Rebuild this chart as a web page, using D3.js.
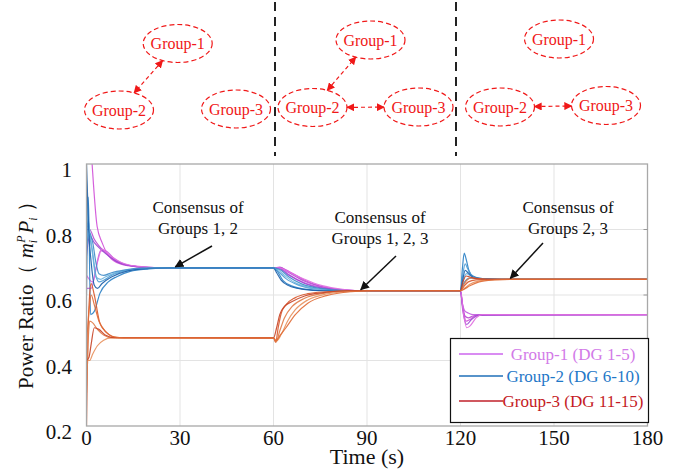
<!DOCTYPE html>
<html><head><meta charset="utf-8">
<script src="https://cdn.jsdelivr.net/npm/d3@7"></script>
<style>body{margin:0;background:#fff}svg{display:block}
svg text{font-family:"Liberation Serif","Times New Roman",serif;}</style>
</head><body>
<svg id="c" width="678" height="470"></svg>
<script>
// ---------- data ----------
const xTicks = [0, 30, 60, 90, 120, 150, 180];
const yTicks = [0.2, 0.4, 0.6, 0.8, 1];
const yTickLabels = ["0.2", "0.4", "0.6", "0.8", "1"];

// Group-1 (DG 1-5) trajectories [time, power ratio]
const group1 = [
  [[0,1.3],[1.8,1.0],[3.4,0.81],[5,0.76],[8,0.71],[12,0.692],[18,0.685],[25,0.683],[60,0.683],[62,0.684],[65,0.672],[70,0.645],[75,0.627],[80,0.618],[88,0.613],[120,0.613],[120.8,0.56],[121.8,0.52],[123,0.525],[125,0.538],[128,0.54],[180,0.54]],
  [[0,0.8],[1,0.8],[2.5,0.77],[4,0.75],[6,0.73],[10,0.7],[15,0.688],[22,0.683],[60,0.683],[62,0.685],[65,0.668],[70,0.642],[75,0.626],[80,0.617],[88,0.613],[120,0.613],[120.6,0.57],[121.5,0.535],[122.5,0.53],[124,0.536],[127,0.54],[180,0.54]],
  [[0,0.62],[1.5,0.62],[3,0.68],[4.5,0.735],[6,0.735],[9,0.71],[14,0.69],[22,0.683],[60,0.683],[62,0.682],[65,0.662],[70,0.637],[75,0.624],[82,0.615],[88,0.613],[120,0.613],[120.5,0.58],[121.5,0.55],[122.5,0.545],[124,0.54],[180,0.54]],
  [[0,0.72],[1,0.78],[2.5,0.76],[4.5,0.74],[7,0.72],[11,0.697],[18,0.685],[25,0.683],[60,0.683],[62,0.68],[65,0.66],[70,0.635],[76,0.62],[88,0.613],[120,0.613],[120.7,0.555],[122,0.51],[123.5,0.525],[126,0.538],[180,0.54]],
  [[0,0.66],[2,0.64],[3.5,0.7],[5,0.74],[7,0.725],[11,0.7],[16,0.688],[24,0.683],[60,0.683],[62,0.683],[65,0.67],[70,0.648],[75,0.63],[80,0.62],[88,0.613],[120,0.613],[121,0.54],[122,0.5],[123,0.505],[125,0.53],[127,0.54],[180,0.54]]
];
// Group-2 (DG 6-10)
const group2 = [
  [[0,0.6],[0.6,0.9],[1.3,0.54],[2.5,0.55],[4.3,0.605],[7,0.64],[9.7,0.656],[14,0.672],[20,0.68],[26,0.683],[60,0.683],[61,0.675],[63,0.645],[66,0.627],[70,0.618],[78,0.613],[120,0.613],[120.6,0.68],[121.2,0.728],[121.8,0.71],[122.7,0.675],[124,0.658],[127,0.65],[132,0.648],[180,0.648]],
  [[0,0.95],[0.8,0.8],[1.8,0.74],[3,0.66],[4,0.64],[5.5,0.645],[8,0.66],[12,0.673],[18,0.68],[25,0.683],[60,0.683],[61.5,0.672],[64,0.65],[68,0.63],[73,0.619],[82,0.613],[120,0.613],[120.7,0.66],[121.5,0.695],[122.3,0.68],[123.5,0.66],[126,0.65],[132,0.648],[180,0.648]],
  [[0,0.85],[1,0.8],[2,0.72],[3,0.655],[4.5,0.648],[6,0.655],[10,0.67],[16,0.68],[24,0.683],[60,0.683],[61,0.68],[63.5,0.66],[67,0.637],[72,0.622],[80,0.614],[86,0.613],[120,0.613],[121,0.65],[122,0.665],[123,0.66],[125,0.652],[130,0.648],[180,0.648]],
  [[0,1.0],[0.7,0.8],[1.5,0.7],[2.5,0.63],[3.5,0.62],[5,0.635],[8,0.655],[13,0.673],[20,0.681],[26,0.683],[60,0.683],[61,0.668],[62.5,0.645],[65,0.628],[69,0.618],[76,0.613],[120,0.613],[120.6,0.64],[121.5,0.675],[122.5,0.667],[124,0.655],[128,0.649],[133,0.648],[180,0.648]],
  [[0,0.75],[1,0.79],[2,0.76],[3,0.7],[4,0.665],[5.5,0.66],[8,0.668],[12,0.676],[18,0.682],[25,0.683],[60,0.683],[62,0.678],[65,0.655],[69,0.634],[75,0.62],[84,0.613],[120,0.613],[121,0.635],[122.5,0.65],[124,0.652],[127,0.649],[132,0.648],[180,0.648]]
];
// Group-3 (DG 11-15)
const group3 = [
  [[0,0.2],[0.4,0.45],[1,0.6],[1.5,0.635],[2.5,0.6],[4.3,0.514],[6.5,0.485],[9.7,0.47],[60,0.469],[60.7,0.456],[61.5,0.5],[62.5,0.545],[64,0.57],[67,0.592],[71,0.604],[77,0.61],[85,0.613],[120,0.613],[121,0.625],[122.5,0.64],[125,0.646],[130,0.648],[180,0.648]],
  [[0,0.3],[0.5,0.45],[1,0.52],[2,0.515],[3.5,0.495],[5.5,0.478],[8,0.47],[60,0.469],[60.8,0.456],[62,0.49],[63.5,0.53],[66,0.565],[70,0.59],[76,0.605],[84,0.612],[90,0.613],[120,0.613],[121,0.63],[122,0.645],[123.5,0.652],[126,0.65],[130,0.648],[180,0.648]],
  [[0,0.4],[1,0.4],[2,0.42],[3.5,0.445],[5.5,0.462],[8,0.469],[60,0.469],[61,0.46],[62.5,0.48],[64.5,0.52],[67,0.555],[71,0.585],[77,0.603],[85,0.611],[92,0.613],[120,0.613],[121.5,0.622],[123,0.633],[126,0.643],[130,0.647],[135,0.648],[180,0.648]],
  [[0,0.4],[0.8,0.41],[1.5,0.45],[2.5,0.5],[4,0.495],[6,0.478],[9,0.47],[60,0.469],[61,0.5],[62,0.54],[63.5,0.565],[66,0.58],[70,0.597],[76,0.607],[84,0.613],[120,0.613],[120.8,0.64],[121.8,0.658],[123,0.655],[125,0.65],[130,0.648],[180,0.648]],
  [[0,0.45],[0.8,0.55],[1.5,0.6],[2.5,0.57],[4,0.52],[6,0.49],[9,0.472],[12,0.469],[60,0.469],[60.8,0.46],[62,0.475],[64,0.5],[67,0.54],[71,0.575],[77,0.598],[85,0.61],[92,0.613],[120,0.613],[121.2,0.618],[123,0.628],[126,0.64],[131,0.646],[136,0.648],[180,0.648]]
];
const group1Colors = ["#d04fd8", "#b84ad0", "#c25ce0", "#9b47d2", "#e06ee0"];
const group2Colors = ["#2a7fc4", "#4a9ad4", "#6cb2de", "#1c5fa8", "#3f8cc8"];
const group3Colors = ["#d8562a", "#e07a46", "#e8905c", "#c84426", "#e06a34"];

const legendLabels = ["Group-1 (DG 1-5)", "Group-2 (DG 6-10)", "Group-3 (DG 11-15)"];
const legendColors = ["#cc66ee", "#1f6fb8", "#c0202a"];
const legendTextColors = ["#d27ae8", "#1f78c8", "#c41a24"];

const annotations = [
  {lines: ["Consensus of", "Groups 1, 2"], t: 28.5, v: 0.683},
  {lines: ["Consensus of", "Groups 1, 2, 3"], t: 88, v: 0.613},
  {lines: ["Consensus of", "Groups 2, 3"], t: 136, v: 0.648}
];

// topology diagram
const panels = [
  {nodes: [["Group-1", 177.7, 43.5], ["Group-2", 119, 110], ["Group-3", 236, 109]], links: [[0, 1]]},
  {nodes: [["Group-1", 370.5, 40], ["Group-2", 312.5, 107.5], ["Group-3", 418.5, 107]], links: [[1, 0], [1, 2]]},
  {nodes: [["Group-1", 559, 39], ["Group-2", 500, 107], ["Group-3", 606, 105.5]], links: [[1, 2]]}
];
const dividerX = [275, 456];

// ---------- drawing ----------
const svg = d3.select("#c");
const L = 86.5, R = 647.5, T = 164, B = 426;
const x = d3.scaleLinear().domain([0, 180]).range([L, R]);
const y = d3.scaleLinear().domain([0.2, 1]).range([B, T]);

// grid
const grid = svg.append("g");
grid.selectAll(".gx").data(xTicks.slice(1, -1)).join("line")
  .attr("x1", d => x(d)).attr("x2", d => x(d)).attr("y1", T).attr("y2", B)
  .attr("stroke", "#e3e3e3").attr("stroke-width", 1);
grid.selectAll(".gy").data(yTicks.slice(1, -1)).join("line")
  .attr("x1", L).attr("x2", R).attr("y1", d => y(d)).attr("y2", d => y(d))
  .attr("stroke", "#e3e3e3").attr("stroke-width", 1);

svg.append("clipPath").attr("id", "clip").append("rect")
  .attr("x", L).attr("y", T).attr("width", R - L).attr("height", B - T);

const line = d3.line().x(d => x(d[0])).y(d => y(d[1])).curve(d3.curveMonotoneX);
const plot = svg.append("g").attr("clip-path", "url(#clip)");
[[group1, group1Colors], [group2, group2Colors], [group3, group3Colors]].forEach(([grp, cols]) => {
  plot.append("g").selectAll("path").data(grp).join("path")
    .attr("d", line).attr("fill", "none")
    .attr("stroke", (d, i) => cols[i]).attr("stroke-width", 1.2).attr("stroke-opacity", 0.9);
});

// frame
svg.append("rect").attr("x", L).attr("y", T).attr("width", R - L).attr("height", B - T)
  .attr("fill", "none").attr("stroke", "#a8a8a8").attr("stroke-width", 1.3);
svg.selectAll(".rt").data(yTicks.slice(1, -1)).join("line")
  .attr("x1", R - 4).attr("x2", R).attr("y1", d => y(d)).attr("y2", d => y(d))
  .attr("stroke", "#999");

// tick labels
svg.selectAll(".xl").data(xTicks).join("text")
  .attr("x", d => x(d)).attr("y", 445).attr("text-anchor", "middle")
  .attr("font-size", 21).attr("fill", "#111").text(d => d);
svg.selectAll(".yl").data(yTicks).join("text")
  .attr("x", 72).attr("y", d => y(d) + 6).attr("text-anchor", "end").attr("dominant-baseline", "central")
  .attr("font-size", 21).attr("fill", "#111").text((d, i) => yTickLabels[i]);

svg.append("text").attr("x", 367).attr("y", 464).attr("text-anchor", "middle")
  .attr("font-size", 22).attr("fill", "#111").text("Time (s)");

// y label
const yl = svg.append("text").attr("transform", "translate(33,290) rotate(-90)")
  .attr("text-anchor", "middle").attr("font-size", 21).attr("fill", "#111");
yl.append("tspan").text("Power Ratio（ ");
yl.append("tspan").attr("font-style", "italic").text("m");
yl.append("tspan").attr("font-style", "italic").attr("font-size", 12).attr("dy", 4).text("i");
yl.append("tspan").attr("font-style", "italic").attr("font-size", 12).attr("dx", -3).attr("dy", -12).text("P");
yl.append("tspan").attr("font-style", "italic").attr("dx", 2).attr("dy", 8).text("P");
yl.append("tspan").attr("font-style", "italic").attr("font-size", 12).attr("dy", 4).text("i");
yl.append("tspan").attr("dy", -4).text(" ）");

// markers
const defs = svg.append("defs");
defs.append("marker").attr("id", "ah").attr("viewBox", "0 0 10 10").attr("refX", 9).attr("refY", 5)
  .attr("markerWidth", 9).attr("markerHeight", 9).attr("orient", "auto-start-reverse")
  .attr("markerUnits", "userSpaceOnUse")
  .append("path").attr("d", "M0,0 L10,5 L0,10 Z").attr("fill", "#111");
defs.append("marker").attr("id", "rh").attr("viewBox", "0 0 10 10").attr("refX", 9).attr("refY", 5)
  .attr("markerWidth", 8).attr("markerHeight", 8).attr("orient", "auto-start-reverse")
  .attr("markerUnits", "userSpaceOnUse")
  .append("path").attr("d", "M0,0 L10,5 L0,10 Z").attr("fill", "#f01818");

// annotations
const annoPos = [[198, 208, 212, 246], [380, 218, 396, 256], [568, 208, 543, 243]];
annotations.forEach((a, i) => {
  const [cx, cy, ax, ay] = annoPos[i];
  const t = svg.append("text").attr("text-anchor", "middle")
    .attr("font-size", 17).attr("fill", "#111");
  a.lines.forEach((s, j) => t.append("tspan").attr("x", cx).attr("y", cy + 5 + j * 21).text(s));
  svg.append("line").attr("x1", ax).attr("y1", ay).attr("x2", x(a.t)).attr("y2", y(a.v) - 1)
    .attr("stroke", "#111").attr("stroke-width", 1.5).attr("marker-end", "url(#ah)");
});

// legend
const lg = svg.append("g");
lg.append("rect").attr("x", 450.5).attr("y", 338.5).attr("width", 198).attr("height", 84)
  .attr("fill", "#fff").attr("stroke", "#111").attr("stroke-width", 1.2);
legendLabels.forEach((s, i) => {
  const yy = [354, 376, 401][i];
  lg.append("line").attr("x1", 459).attr("x2", 503).attr("y1", yy).attr("y2", yy)
    .attr("stroke", legendColors[i]).attr("stroke-width", 1.5);
  lg.append("text").attr("x", 573).attr("y", yy).attr("dominant-baseline", "central")
    .attr("text-anchor", "middle").attr("font-size", 17)
    .attr("fill", legendTextColors[i]).text(s);
});

// topology diagram
dividerX.forEach(dx => svg.append("line").attr("x1", dx).attr("x2", dx).attr("y1", 2).attr("y2", 156)
  .attr("stroke", "#222").attr("stroke-width", 2).attr("stroke-dasharray", "9,6"));
const rx = 34.5, ry = 19;
panels.forEach(p => {
  p.links.forEach(([a, b]) => {
    const A = p.nodes[a], Bn = p.nodes[b];
    const ang = Math.atan2(Bn[2] - A[2], Bn[1] - A[1]);
    const edge = (n, th) => {
      const k = 1 / Math.sqrt((Math.cos(th) / rx) ** 2 + (Math.sin(th) / ry) ** 2);
      return [n[1] + k * Math.cos(th), n[2] + k * Math.sin(th)];
    };
    const p1 = edge(A, ang), p2 = edge(Bn, ang + Math.PI);
    svg.append("line").attr("x1", p1[0]).attr("y1", p1[1]).attr("x2", p2[0]).attr("y2", p2[1])
      .attr("stroke", "#f01818").attr("stroke-width", 1.2).attr("stroke-dasharray", "4,3")
      .attr("marker-start", "url(#rh)").attr("marker-end", "url(#rh)");
  });
  p.nodes.forEach(n => {
    svg.append("ellipse").attr("cx", n[1]).attr("cy", n[2]).attr("rx", rx).attr("ry", ry)
      .attr("fill", "none").attr("stroke", "#f01818").attr("stroke-width", 1.2).attr("stroke-dasharray", "5,3");
    svg.append("text").attr("x", n[1]).attr("y", n[2]).attr("text-anchor", "middle").attr("dominant-baseline", "central")
      .attr("font-size", 16).attr("fill", "#f01818").text(n[0]);
  });
});
</script>
</body></html>
